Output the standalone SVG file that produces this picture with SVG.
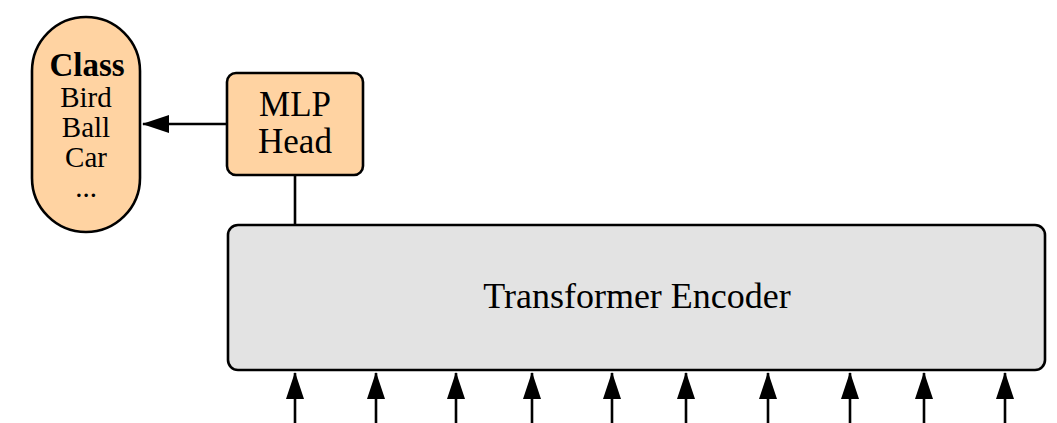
<svg xmlns="http://www.w3.org/2000/svg" width="1057" height="423" viewBox="0 0 1057 423">
<style>
.node{stroke:#000;stroke-width:2.6}
.peach{fill:#FFD3A2}
.gray{fill:#E3E3E3}
text{font-family:"Liberation Serif","Times New Roman",serif;fill:#000;text-anchor:middle}
.conn{stroke:#000;stroke-width:2.6;fill:none}
</style>
<defs>
<marker id="ah" markerUnits="userSpaceOnUse" markerWidth="28" markerHeight="18" refX="26" refY="9" orient="auto">
<path d="M0,0 L27,9 L0,18 Z" fill="#000"/>
</marker>
</defs>
<g id="class">
<rect class="node peach" x="32" y="17" width="108" height="215" rx="54" ry="54"/>
<text x="87" y="76" font-size="33" font-weight="bold">Class</text>
<text x="86" y="107" font-size="29">Bird</text>
<text x="86" y="137" font-size="29">Ball</text>
<text x="86" y="167" font-size="29">Car</text>
<text x="86" y="197" font-size="29">...</text>
</g>
<g id="mlp">
<rect class="node peach" x="227" y="73" width="136" height="102" rx="9" ry="9"/>
<text x="295" y="116" font-size="35">MLP</text>
<text x="295" y="153" font-size="35">Head</text>
</g>
<g id="encoder">
<rect class="node gray" x="228" y="225" width="817" height="145" rx="10" ry="10"/>
<text x="637" y="308" font-size="36">Transformer Encoder</text>
</g>
<g id="connectors">
<line class="conn" x1="227" y1="124" x2="143" y2="124" marker-end="url(#ah)"/>
<line class="conn" x1="295" y1="175" x2="295" y2="225"/>
<line class="conn" x1="295" y1="423" x2="295" y2="373" marker-end="url(#ah)"/>
<line class="conn" x1="376" y1="423" x2="376" y2="373" marker-end="url(#ah)"/>
<line class="conn" x1="456" y1="423" x2="456" y2="373" marker-end="url(#ah)"/>
<line class="conn" x1="532" y1="423" x2="532" y2="373" marker-end="url(#ah)"/>
<line class="conn" x1="612" y1="423" x2="612" y2="373" marker-end="url(#ah)"/>
<line class="conn" x1="686" y1="423" x2="686" y2="373" marker-end="url(#ah)"/>
<line class="conn" x1="768" y1="423" x2="768" y2="373" marker-end="url(#ah)"/>
<line class="conn" x1="850" y1="423" x2="850" y2="373" marker-end="url(#ah)"/>
<line class="conn" x1="924" y1="423" x2="924" y2="373" marker-end="url(#ah)"/>
<line class="conn" x1="1005" y1="423" x2="1005" y2="373" marker-end="url(#ah)"/>
</g>
</svg>
